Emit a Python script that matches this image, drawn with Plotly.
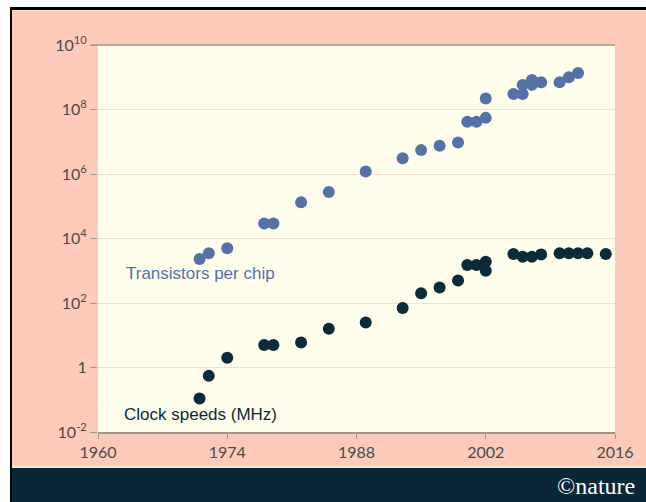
import plotly.graph_objects as go

# ---- data ----
transistor_years = [1971, 1972, 1974, 1978, 1979, 1982, 1985, 1989, 1993, 1995, 1997, 1999,
                    2000, 2001, 2002, 2002, 2005, 2006, 2006, 2007, 2007, 2008, 2010, 2011, 2012]
transistor_counts = [2300, 3500, 5000, 29000, 29000, 134000, 275000, 1.2e6, 3.1e6, 5.5e6, 7.5e6, 9.5e6,
                     4.2e7, 4.2e7, 5.5e7, 2.2e8, 3.0e8, 5.8e8, 3.0e8, 8.2e8, 5.8e8, 7.0e8, 7.0e8, 1.0e9, 1.35e9]

clock_years = [1971, 1972, 1974, 1978, 1979, 1982, 1985, 1989, 1993, 1995, 1997, 1999,
               2000, 2001, 2002, 2002, 2005, 2006, 2007, 2008, 2010, 2011, 2012, 2013, 2015]
clock_mhz = [0.11, 0.55, 2, 5, 5, 6, 16, 25, 70, 200, 300, 500,
             1500, 1500, 1900, 1000, 3300, 2700, 2700, 3200, 3500, 3500, 3500, 3500, 3300]

x_ticks = [1960, 1974, 1988, 2002, 2016]
y_tickvals = [1e-2, 1, 1e2, 1e4, 1e6, 1e8, 1e10]
y_ticktext = ["10<sup>-2</sup>", "1", "10<sup>2</sup>", "10<sup>4</sup>", "10<sup>6</sup>",
              "10<sup>8</sup>", "10<sup>10</sup>"]

# ---- styles ----
SALMON = "#fecbbb"
CREAM = "#fffdec"
BLUE = "#5472a8"
NAVY = "#0b2a3a"
BAR = "#0a2738"
AXIS = "#9e978c"
GRID = "#fbdccf"
TEXT = "#4a4a4a"

W, H = 646, 502
L, R, T, B = 98, 615, 45, 432


def px(x):
    return (x - L) / (R - L)


def py(y):
    return (B - y) / (B - T)


fig = go.Figure()
fig.add_trace(go.Scatter(x=transistor_years, y=transistor_counts, mode="markers",
                         marker=dict(size=12, color=BLUE, line=dict(width=0)),
                         showlegend=False, hoverinfo="x+y"))
fig.add_trace(go.Scatter(x=clock_years, y=clock_mhz, mode="markers",
                         marker=dict(size=12, color=NAVY, line=dict(width=0)),
                         showlegend=False, hoverinfo="x+y"))

shapes = []


def rect(x0, y0, x1, y1, color):
    shapes.append(dict(type="rect", xref="paper", yref="paper",
                       x0=px(x0), x1=px(x1), y0=py(y1), y1=py(y0),
                       fillcolor=color, line=dict(width=0), layer="below"))


rect(0, 0, W, 7, "white")
rect(0, 0, 10, H, "white")
rect(10, 7, W, 10, "black")
rect(10, 7, 12, H, "black")
rect(12, 10, W, 11, "#f3e7d3")
rect(12, 466, W, 468, "#fbe9d8")
rect(12, 468, W, H, BAR)
# top frame line at 10^10, extending as a tick
shapes.append(dict(type="line", xref="paper", yref="paper", x0=px(91), x1=1, y0=1, y1=1,
                   line=dict(color=AXIS, width=1.5), layer="above"))

fig.update_layout(
    width=W, height=H,
    margin=dict(l=L, r=W - R, t=T, b=H - B, pad=0),
    paper_bgcolor=SALMON, plot_bgcolor=CREAM,
    shapes=shapes,
    xaxis=dict(range=[1960, 2016], tickvals=x_ticks, ticktext=[str(v) for v in x_ticks],
               showgrid=False, zeroline=False, showline=True, linecolor=AXIS, linewidth=1.5,
               ticks="outside", ticklen=5, tickcolor=AXIS, tickwidth=1,
               tickfont=dict(family="Lato", size=16, color=TEXT)),
    yaxis=dict(type="log", range=[-2, 10], tickvals=y_tickvals, ticktext=y_ticktext,
               showgrid=True, gridcolor=GRID, gridwidth=1, zeroline=False, showline=False,
               ticks="outside", ticklen=7, tickcolor=AXIS, tickwidth=1,
               tickfont=dict(family="Lato", size=16, color=TEXT)),
    annotations=[
        dict(x=1962.8, y=2.9, xref="x", yref="y", text="Transistors per chip", showarrow=False,
             xanchor="left", yanchor="middle", font=dict(family="Liberation Sans", size=17, color=BLUE)),
        dict(x=1962.6, y=-1.45, xref="x", yref="y", text="Clock speeds (MHz)", showarrow=False,
             xanchor="left", yanchor="middle", font=dict(family="Liberation Sans", size=17, color=NAVY)),
        dict(x=px(637), y=py(486), xref="paper", yref="paper", text="©nature", showarrow=False,
             xanchor="right", yanchor="middle", font=dict(family="Liberation Serif", size=24, color="white")),
    ],
)

fig.write_html("out.html", config={"displayModeBar": False},
               post_script="document.body.style.margin='0px';document.body.style.overflow='hidden';")
